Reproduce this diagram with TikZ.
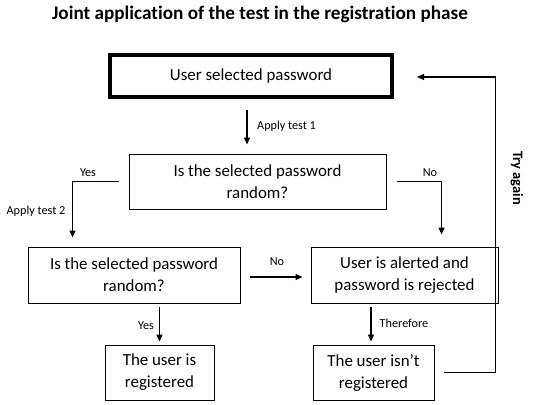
\documentclass[tikz,border=0pt]{standalone}
\usepackage{fontspec}
\setmainfont{Carlito}[Ligatures=NoCommon]
\usetikzlibrary{arrows.meta}
\begin{document}
\begin{tikzpicture}[x=1pt,y=-1pt,
  box/.style={draw, line width=0.9pt, align=center, inner sep=0pt, font=\fontsize{16.9}{22}\selectfont},
  arr/.style={line width=1.1pt, -{Triangle[length=7pt,width=6pt]}},
  lbl/.style={font=\fontsize{12.2}{14}\selectfont, inner sep=0pt}]
\useasboundingbox (0,0) rectangle (550,405);
\node[font=\fontsize{19.2}{22}\selectfont\bfseries] (title) at (260,14) {Joint application of the test in the registration phase};
\node[box, line width=4pt, minimum width=282pt, minimum height=42pt] (b1) at (251,76) {User selected password};
\node[box, minimum width=257pt, minimum height=55pt] (b2) at (257.5,181.5) {Is the selected password\\random?};
\node[box, minimum width=212pt, minimum height=56pt] (b3) at (134,275) {Is the selected password\\random?};
\node[box, minimum width=187pt, minimum height=56pt] (b4) at (404.5,275) {User is alerted and\\password is rejected};
\node[box, minimum width=109pt, minimum height=55pt] (b5) at (159.5,372.5) {The user is\\registered};
\node[box, minimum width=121pt, minimum height=55pt] (b6) at (373.5,372.5) {The user isn’t\\registered};
\draw[arr, shorten <=11pt, shorten >=9pt] ([xshift=-4pt]b1.south) -- ([xshift=-10.5pt]b2.north);
\draw[arr, shorten >=9pt] ([xshift=-10pt]b2.west) -| ([xshift=45pt]b3.north west);
\draw[arr, shorten >=12pt] ([xshift=11pt]b2.east) -| ([xshift=131pt]b4.north west);
\draw[arr, shorten <=10pt, shorten >=8pt] ([yshift=-2pt]b3.east) -- ([yshift=-2pt]b4.west);
\draw[arr, shorten <=4pt, shorten >=3pt] (b5.north |- b3.south) -- (b5.north);
\draw[arr, shorten <=4pt, shorten >=3pt] ([xshift=-2.5pt]b6.north |- b4.south) -- ([xshift=-2.5pt]b6.north);
\draw[arr, shorten >=23pt] ([xshift=10pt]b6.east) -- ([xshift=61pt]b6.east) |- ([yshift=-1pt]b1.east);
\node[lbl, anchor=west] (l1) at (257,126) {Apply test 1};
\node[lbl] (l2) at (88,173) {Yes};
\node[lbl] (l3) at (36,211) {Apply test 2};
\node[lbl] (l4) at (430,173) {No};
\node[lbl] (l5) at (277,262) {No};
\node[lbl] (l6) at (146,326) {Yes};
\node[lbl] (l7) at (404,323) {Therefore};
\node[lbl, font=\fontsize{14.4}{16}\selectfont\bfseries, rotate=-90] (l8) at (517,178) {Try again};
\end{tikzpicture}
\end{document}
